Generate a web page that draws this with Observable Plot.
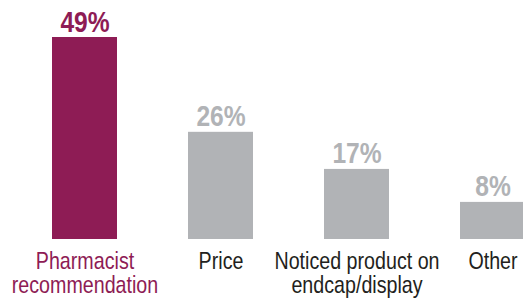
<!DOCTYPE html>
<html>
<head>
<meta charset="utf-8">
<script src="https://cdn.jsdelivr.net/npm/d3@7"></script>
<script src="https://cdn.jsdelivr.net/npm/@observablehq/plot@0.6"></script>
<style>
  html, body { margin: 0; padding: 0; background: #fff; overflow: hidden; }
  svg { overflow: visible; }
</style>
</head>
<body>
<div id="chart"></div>
<script>
const categories = ["Pharmacist\nrecommendation", "Price", "Noticed product on\nendcap/display", "Other"];
const values = [49, 26, 17, 9];
const valueLabels = ["49%", "26%", "17%", "8%"];

const highlight = categories[0];
const MAROON = "#8E1C55";
const GRAY = "#B1B3B6";
const DARK = "#231F20";
const FONT = "'Liberation Sans', Arial, Helvetica, sans-serif";
const CONDENSE = 0.82;

const data = categories.map((c, i) => ({category: c, value: values[i], label: valueLabels[i]}));

const chart = Plot.plot({
  width: 523,
  height: 299,
  marginTop: 37,
  marginBottom: 60,
  marginLeft: 0,
  marginRight: 0,
  style: {fontFamily: FONT, background: "#fff", overflow: "visible"},
  x: {domain: categories, range: [50, 526], paddingInner: 0.5255, paddingOuter: 0, axis: null},
  y: {domain: [0, 49], axis: null},
  marks: [
    Plot.barY(data, {x: "category", y: "value", fill: d => d.category === highlight ? MAROON : GRAY}),
    Plot.text(data, {
      x: "category", y: "value", text: "label",
      lineAnchor: "bottom", dy: -6,
      fontSize: 30, fontWeight: "bold",
      fill: d => d.category === highlight ? MAROON : GRAY
    }),
    Plot.text(data, {
      x: "category", y: () => 0, text: "category",
      lineAnchor: "top", dy: 13,
      fontSize: 24, lineHeight: 0.98,
      fill: d => d.category === highlight ? MAROON : DARK
    })
  ]
});

// condense text horizontally to mimic a condensed typeface
d3.select(chart).selectAll("text").each(function() {
  const t = this.getAttribute("transform");
  if (t && t.includes("translate")) {
    this.setAttribute("transform", t + ` scale(${CONDENSE},1)`);
  } else {
    const x = +(this.getAttribute("x") || 0);
    const y = +(this.getAttribute("y") || 0);
    this.removeAttribute("x");
    this.removeAttribute("y");
    this.setAttribute("transform", `${t || ""} translate(${x},${y}) scale(${CONDENSE},1)`);
  }
});

document.getElementById("chart").appendChild(chart);
</script>
</body>
</html>
